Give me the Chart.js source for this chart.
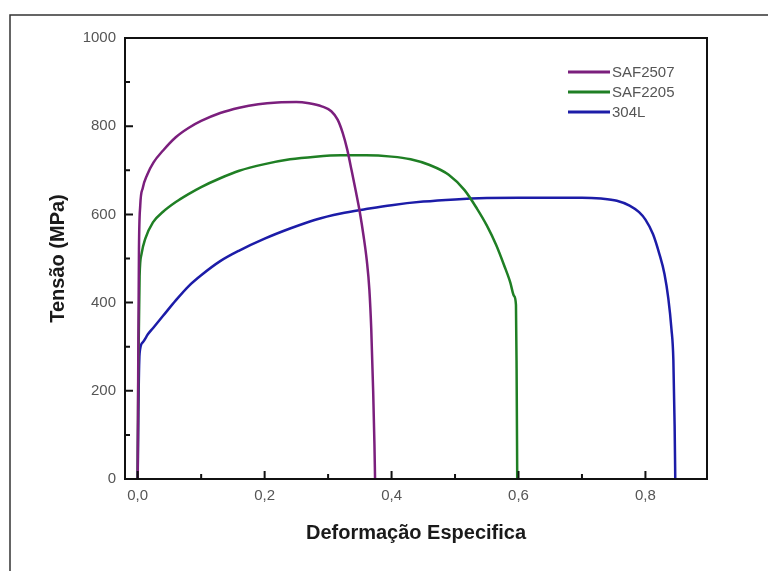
<!DOCTYPE html>
<html>
<head>
<meta charset="utf-8">
<script src="https://cdn.jsdelivr.net/npm/chart.js@4.4.1/dist/chart.umd.min.js"></script>
<style>
  html, body { margin:0; padding:0; background:#fff; }
  canvas { display:block; }
</style>
</head>
<body>
<canvas id="chart" width="768" height="571"></canvas>
<script>
// values: strain (-) vs stress (MPa)
const saf2507Strain = [0.000, 0.001, 0.002, 0.004, 0.008, 0.015, 0.025, 0.040, 0.060, 0.080, 0.100, 0.130, 0.160, 0.190, 0.220, 0.250, 0.270, 0.290, 0.305, 0.315, 0.323, 0.330, 0.337, 0.344, 0.350, 0.356, 0.361, 0.365, 0.368, 0.371, 0.373, 0.374];
const saf2507Stress = [0, 300, 520, 620, 660, 690, 718, 745, 775, 796, 812, 830, 842, 850, 854, 855, 852, 845, 834, 815, 785, 748, 700, 650, 605, 550, 495, 430, 340, 200, 80, 0];

const saf2205Strain = [0.000, 0.001, 0.003, 0.006, 0.012, 0.024, 0.040, 0.060, 0.080, 0.100, 0.130, 0.160, 0.200, 0.240, 0.280, 0.320, 0.360, 0.400, 0.430, 0.460, 0.490, 0.515, 0.535, 0.550, 0.565, 0.578, 0.587, 0.593, 0.596, 0.597, 0.598];
const saf2205Stress = [0, 250, 460, 510, 545, 582, 606, 628, 646, 662, 682, 699, 714, 725, 731, 734, 734, 731, 725, 712, 690, 655, 612, 575, 530, 482, 446, 415, 395, 250, 0];

const l304Strain = [0.000, 0.001, 0.003, 0.008, 0.016, 0.024, 0.040, 0.060, 0.080, 0.100, 0.130, 0.160, 0.200, 0.240, 0.280, 0.320, 0.360, 0.400, 0.450, 0.500, 0.550, 0.600, 0.650, 0.700, 0.730, 0.755, 0.775, 0.790, 0.800, 0.812, 0.822, 0.830, 0.836, 0.841, 0.844, 0.846, 0.847];
const l304Stress = [0, 150, 285, 310, 328, 342, 370, 405, 437, 462, 494, 518, 545, 568, 588, 602, 612, 621, 629, 634, 637, 638, 638, 638, 636, 631, 620, 605, 588, 555, 510, 465, 410, 340, 270, 120, 0];

const seriesNames = ["SAF2507", "SAF2205", "304L"];
const seriesColors = ["#7b1f7d", "#1f7f24", "#1c1ca8"];

const xMajor = [0, 0.2, 0.4, 0.6, 0.8];
const yMajor = [0, 200, 400, 600, 800, 1000];

const pts = (xs, ys) => xs.map((x, i) => ({ x, y: ys[i] }));
const isMajor = (list, v) => list.some(m => Math.abs(m - v) < 1e-6);

const TICK_FONT = { family: "'Liberation Sans', Arial, sans-serif", size: 15 };
const TITLE_FONT = { family: "'Liberation Sans', Arial, sans-serif", size: 20, weight: "bold" };

// outer picture frame (left + top edges only, the rest is cut off)
const outerFrame = {
  id: "outerFrame",
  beforeDraw(chart){
    const c = chart.ctx;
    c.save();
    c.strokeStyle = "#333";
    c.lineWidth = 1.5;
    c.beginPath();
    c.moveTo(10, 571);
    c.lineTo(10, 15);
    c.lineTo(768, 15);
    c.stroke();
    c.restore();
  }
};

// box round the plot, ticks pointing inwards
const boxTicks = {
  id: "boxTicks",
  afterDraw(chart){
    const { ctx: c, chartArea: a, scales } = chart;
    c.save();
    c.strokeStyle = "#111";
    c.lineWidth = 2;
    c.strokeRect(a.left, a.top, a.right - a.left, a.bottom - a.top);
    c.beginPath();
    scales.x.ticks.forEach(t => {
      const px = scales.x.getPixelForValue(t.value);
      const len = isMajor(xMajor, t.value) ? 8 : 5;
      c.moveTo(px, a.bottom);
      c.lineTo(px, a.bottom - len);
    });
    scales.y.ticks.forEach(t => {
      const py = scales.y.getPixelForValue(t.value);
      const len = isMajor(yMajor, t.value) ? 8 : 5;
      c.moveTo(a.left, py);
      c.lineTo(a.left + len, py);
    });
    c.stroke();
    c.restore();
  }
};

// legend sitting in the top right of the plot
const innerLegend = {
  id: "innerLegend",
  afterDraw(chart){
    const c = chart.ctx;
    c.save();
    c.font = "15px 'Liberation Sans', Arial, sans-serif";
    c.textBaseline = "middle";
    c.textAlign = "left";
    chart.data.datasets.forEach((ds, i) => {
      const y = 72 + i * 20;
      c.strokeStyle = ds.borderColor;
      c.lineWidth = 3;
      c.beginPath();
      c.moveTo(568, y);
      c.lineTo(610, y);
      c.stroke();
      c.fillStyle = "#555";
      c.fillText(ds.label, 612, y + 1);
    });
    c.restore();
  }
};

new Chart(document.getElementById("chart"), {
  type: "scatter",
  data: {
    datasets: [
      { label: seriesNames[0], data: pts(saf2507Strain, saf2507Stress), borderColor: seriesColors[0] },
      { label: seriesNames[1], data: pts(saf2205Strain, saf2205Stress), borderColor: seriesColors[1] },
      { label: seriesNames[2], data: pts(l304Strain, l304Stress), borderColor: seriesColors[2] }
    ].map(d => ({ ...d, showLine: true, pointRadius: 0, borderWidth: 2.5, cubicInterpolationMode: "monotone", backgroundColor: d.borderColor }))
  },
  options: {
    responsive: false,
    animation: false,
    layout: { padding: { left: 0, top: 38, right: 61, bottom: 0 } },
    plugins: { legend: { display: false }, tooltip: { enabled: false } },
    scales: {
      x: {
        type: "linear",
        min: -0.02,
        max: 0.897,
        afterFit: (s) => { s.height = 92; },
        grid: { display: false, drawTicks: false },
        border: { display: false },
        ticks: {
          stepSize: 0.1,
          includeBounds: false,
          autoSkip: false,
          maxRotation: 0,
          padding: 8,
          color: "#555",
          font: TICK_FONT,
          callback: (v) => isMajor(xMajor, v) ? v.toFixed(1).replace(".", ",") : ""
        },
        title: { display: true, text: "Deformação Especifica", color: "#1a1a1a", font: TITLE_FONT, padding: { top: 0, bottom: 26 } }
      },
      y: {
        type: "linear",
        min: 0,
        max: 1000,
        afterFit: (s) => { s.width = 125; },
        grid: { display: false, drawTicks: false },
        border: { display: false },
        ticks: {
          stepSize: 100,
          autoSkip: false,
          padding: 9,
          color: "#555",
          font: TICK_FONT,
          callback: (v) => isMajor(yMajor, v) ? String(v) : ""
        },
        title: { display: true, text: "Tensão (MPa)", color: "#1a1a1a", font: TITLE_FONT, padding: { top: 46, bottom: 0 } }
      }
    }
  },
  plugins: [outerFrame, boxTicks, innerLegend]
});
</script>
</body>
</html>
